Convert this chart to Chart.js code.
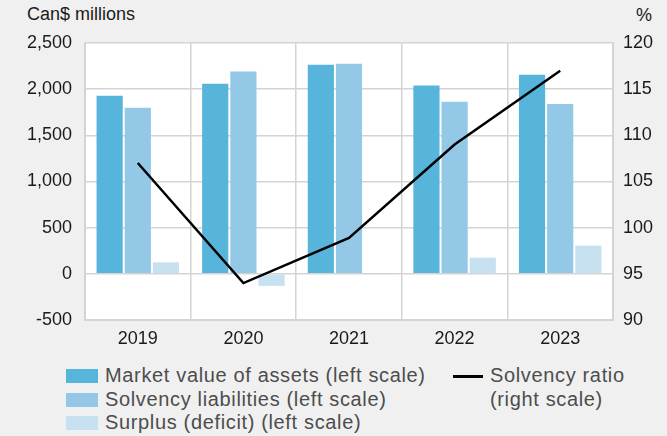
<!DOCTYPE html>
<html>
<head>
<meta charset="utf-8">
<script src="https://cdn.jsdelivr.net/npm/chart.js@4"></script>
<style>
  html, body { margin: 0; padding: 0; background: #f0f0f0; }
  body { width: 667px; height: 436px; position: relative; overflow: hidden;
         font-family: "Liberation Sans", Arial, Helvetica, sans-serif; }
  #wrap { position: absolute; left: 0; top: 0; width: 667px; height: 355px; }
  .unit { position: absolute; font-size: 18px; line-height: 18px; color: #1a1a1a; }
  .legend { position: absolute; font-size: 20px; line-height: 23.5px; letter-spacing: 0.65px; color: #4d4d4d; }
  .legend .row { position: relative; height: 23.5px; white-space: nowrap; }
  .legend .box { position: absolute; left: 0; top: 5px; width: 32px; height: 14px; }
  .legend .lbl { position: absolute; left: 39px; top: 0; }
  .legend .ln { position: absolute; left: 0; top: 11px; width: 30px; height: 2.5px; background: #000; }
</style>
</head>
<body>
<div class="unit" style="left:27px; top:5px;">Can$ millions</div>
<div class="unit" style="right:15px; top:6px;">%</div>
<div id="wrap"><canvas id="chart"></canvas></div>

<div class="legend" style="left:66px; top:364px;">
  <div class="row"><span class="box" style="background:#57b5dc"></span><span class="lbl">Market value of assets (left scale)</span></div>
  <div class="row"><span class="box" style="background:#93c9e6"></span><span class="lbl">Solvency liabilities (left scale)</span></div>
  <div class="row"><span class="box" style="background:#c8e1f0"></span><span class="lbl">Surplus (deficit) (left scale)</span></div>
</div>
<div class="legend" style="left:453px; top:364px;">
  <div class="row"><span class="ln"></span><span class="lbl" style="left:37px">Solvency ratio</span></div>
  <div class="row"><span class="lbl" style="left:37px">(right scale)</span></div>
</div>

<script>
const years = ['2019', '2020', '2021', '2022', '2023'];
const marketValue = [1930, 2060, 2265, 2040, 2155];
const solvencyLiabilities = [1800, 2190, 2275, 1865, 1840];
const surplus = [125, -130, -10, 175, 305];
const solvencyRatio = [107.0, 94.0, 98.9, 109.0, 117.0];

const gridColor = '#d4d4d4';

// white plot area behind the bars
const plotBg = {
  id: 'plotBg',
  beforeDraw(chart) {
    const { ctx, chartArea: a } = chart;
    ctx.save();
    ctx.fillStyle = '#ffffff';
    ctx.fillRect(a.left, a.top, a.right - a.left, a.bottom - a.top);
    ctx.restore();
  }
};

const tickFont = { family: '"Liberation Sans", Arial, Helvetica, sans-serif', size: 18 };

new Chart(document.getElementById('chart'), {
  data: {
    labels: years,
    datasets: [
      { type: 'bar', label: 'Market value of assets (left scale)', data: marketValue,
        backgroundColor: '#57b5dc', yAxisID: 'y', order: 1 },
      { type: 'bar', label: 'Solvency liabilities (left scale)', data: solvencyLiabilities,
        backgroundColor: '#93c9e6', yAxisID: 'y', order: 1 },
      { type: 'bar', label: 'Surplus (deficit) (left scale)', data: surplus,
        backgroundColor: '#c8e1f0', yAxisID: 'y', order: 1 },
      { type: 'line', label: 'Solvency ratio (right scale)', data: solvencyRatio,
        borderColor: '#000000', borderWidth: 2.5, pointRadius: 0, tension: 0,
        fill: false, yAxisID: 'y1', order: 0 }
    ]
  },
  options: {
    responsive: true,
    maintainAspectRatio: false,
    animation: false,
    datasets: {
      bar: { categoryPercentage: 0.8, barPercentage: 0.93 }
    },
    layout: { padding: { top: 43, left: 0, right: 0, bottom: 0 } },
    plugins: {
      legend: { display: false },
      tooltip: { enabled: false }
    },
    scales: {
      x: {
        offset: true,
        grid: { offset: true, color: gridColor, lineWidth: 1.5, drawTicks: false },
        border: { color: gridColor, width: 2 },
        ticks: { color: '#1a1a1a', font: tickFont, padding: 8 },
        afterFit: (scale) => { scale.height = 35; }
      },
      y: {
        position: 'left',
        min: -500,
        max: 2500,
        ticks: { stepSize: 500, color: '#1a1a1a', font: tickFont, padding: 13 },
        grid: { color: gridColor, lineWidth: 1.5, drawTicks: false },
        border: { color: gridColor, width: 2 },
        afterFit: (scale) => { scale.width = 85; }
      },
      y1: {
        position: 'right',
        min: 90,
        max: 120,
        ticks: { stepSize: 5, color: '#1a1a1a', font: tickFont, padding: 10 },
        grid: { display: false, drawTicks: false },
        border: { color: gridColor, width: 2 },
        afterFit: (scale) => { scale.width = 54; }
      }
    }
  },
  plugins: [plotBg]
});
</script>
</body>
</html>
